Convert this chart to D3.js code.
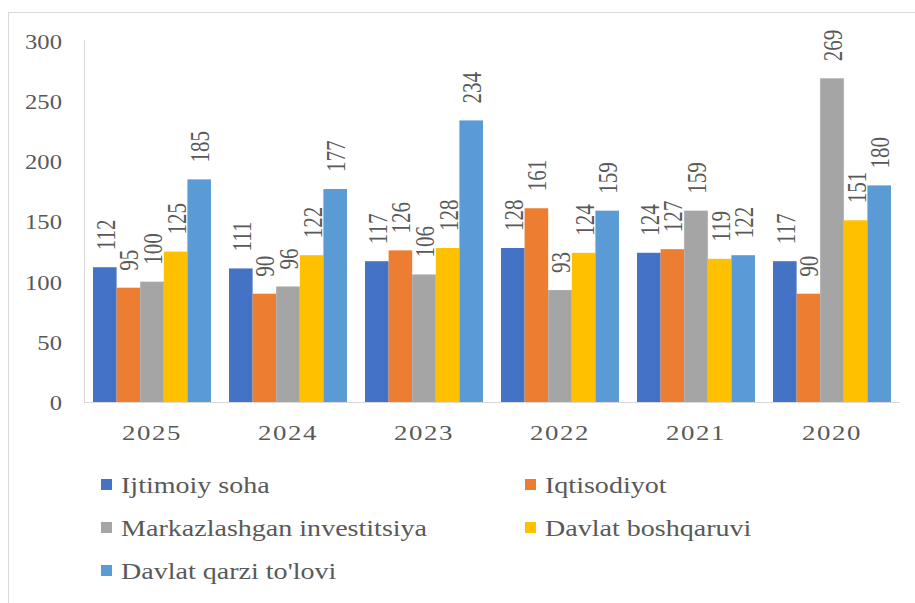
<!DOCTYPE html>
<html>
<head>
<meta charset="utf-8">
<script src="https://cdn.jsdelivr.net/npm/d3@7"></script>
<style>
  html, body { margin: 0; padding: 0; background: #fff; }
  svg { display: block; }
  text { font-family: "Liberation Serif", "Times New Roman", serif; fill: #595959; }
</style>
</head>
<body>
<script>
const years = ["2025", "2024", "2023", "2022", "2021", "2020"];
const seriesNames = ["Ijtimoiy soha", "Iqtisodiyot", "Markazlashgan investitsiya", "Davlat boshqaruvi", "Davlat qarzi to'lovi"];
const seriesColors = ["#4472C4", "#ED7D31", "#A5A5A5", "#FFC000", "#5B9BD5"];
const ijtimoiy = [112, 111, 117, 128, 124, 117];
const iqtisodiyot = [95, 90, 126, 161, 127, 90];
const markazlashgan = [100, 96, 106, 93, 159, 269];
const boshqaruv = [125, 122, 128, 124, 119, 151];
const qarz = [185, 177, 234, 159, 122, 180];
const seriesValues = [ijtimoiy, iqtisodiyot, markazlashgan, boshqaruv, qarz];
const yTicks = [0, 50, 100, 150, 200, 250, 300];

const W = 915, H = 603;
const FS = 22, SX = 1.28;
const svg = d3.select("body").append("svg").attr("width", W).attr("height", H);

// chart border
svg.append("rect").attr("x", 8.5).attr("y", 12.5).attr("width", 1000).attr("height", 1000)
  .attr("fill", "none").attr("stroke", "#d9d9d9");

const x0 = d3.scaleBand().domain(years).range([84, 900]).paddingInner(0.1324).paddingOuter(0.0662);
const x1 = d3.scaleBand().domain(seriesNames).range([0, x0.bandwidth()]);
const y = d3.scaleLinear().domain([0, 300]).range([402, 41]);

// y axis
const ya = svg.append("g").attr("transform", "translate(84,0)")
  .call(d3.axisLeft(y).tickValues(yTicks).tickSize(0).tickPadding(22));
ya.select(".domain").remove();
ya.selectAll("text").attr("x", null).attr("dy", "0.34em")
  .attr("transform", "translate(-22,0) scale(1.12,1)")
  .style("font-size", "22px").style("font-family", "Liberation Serif").attr("fill", "#595959");
svg.append("line").attr("x1", 84.5).attr("x2", 84.5).attr("y1", 40).attr("y2", 402)
  .attr("stroke", "#d9d9d9");

// bars
const data = [];
years.forEach((yr, i) => seriesNames.forEach((s, j) => data.push({ yr, s, j, v: seriesValues[j][i] })));
svg.append("g").selectAll("rect").data(data).join("rect")
  .attr("x", d => x0(d.yr) + x1(d.s))
  .attr("width", x1.bandwidth())
  .attr("y", d => y(d.v))
  .attr("height", d => y(0) - y(d.v))
  .attr("fill", d => seriesColors[d.j]);

// baseline
svg.append("line").attr("x1", 84).attr("x2", 900).attr("y1", 402.5).attr("y2", 402.5)
  .attr("stroke", "#d9d9d9");

// x axis
const xa = svg.append("g").attr("transform", "translate(0,402)")
  .call(d3.axisBottom(x0).tickSize(0).tickPadding(0));
xa.select(".domain").remove();
xa.selectAll("text").attr("y", null).attr("dy", null)
  .attr("transform", "translate(0,38) scale(1.28,1)")
  .style("font-size", "21px").style("font-family", "Liberation Serif").attr("fill", "#595959")
  .style("letter-spacing", "1.2px");

// data labels
svg.append("g").selectAll("text").data(data).join("text")
  .attr("transform", d => "translate(" + (x0(d.yr) + x1(d.s) + x1.bandwidth() / 2 + 1) + "," + (y(d.v) - 17) + ") scale(" + SX + ",1) rotate(-90)")
  .attr("text-anchor", "start")
  .attr("dominant-baseline", "central")
  .style("font-size", "21px")
  .attr("fill", "#7f7f7f")
  .text(d => d.v);

// legend
const legPos = [[101, 493], [525, 493], [101, 536], [525, 536], [101, 579]];
const leg = svg.append("g").selectAll("g").data(seriesNames).join("g")
  .attr("transform", (d, i) => "translate(" + legPos[i][0] + "," + legPos[i][1] + ")");
leg.append("rect").attr("x", 0).attr("y", -14).attr("width", 11).attr("height", 11)
  .attr("fill", (d, i) => seriesColors[i]);
leg.append("text").attr("transform", "translate(20,0) scale(1.22,1)")
  .style("font-size", "23px").text(d => d);
</script>
</body>
</html>
